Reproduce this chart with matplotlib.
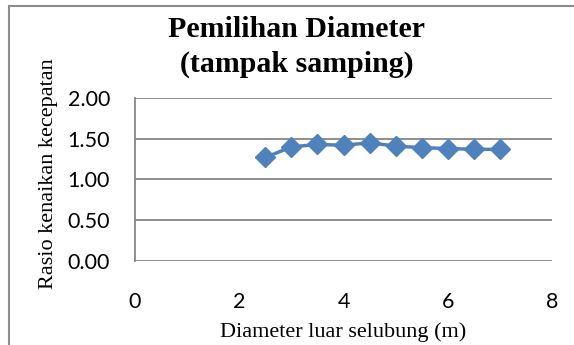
import matplotlib
matplotlib.use('Agg')
import matplotlib.pyplot as plt
from matplotlib.patches import Rectangle

# diameter luar (m) vs rasio kenaikan kecepatan
diameter = [2.5, 3.0, 3.5, 4.0, 4.5, 5.0, 5.5, 6.0, 6.5, 7.0]
rasio = [1.27, 1.40, 1.43, 1.42, 1.45, 1.41, 1.39, 1.38, 1.37, 1.37]
yticks = [0.0, 0.5, 1.0, 1.5, 2.0]
xticks = [0, 2, 4, 6, 8]
judul = ['Pemilihan Diameter', '(tampak samping)']

W, H = 574, 345
fig = plt.figure(figsize=(W/100, H/100), dpi=100, facecolor='white')
ax = fig.add_axes([0.235, 0.2435, 0.727, 0.4725])

ax.plot(diameter, rasio, color='#4F81BD', lw=2.5, marker='D', ms=10.5,
        markeredgecolor='#4F81BD')

ax.set_xlim(0, 8)
ax.set_ylim(0, 2)
ax.set_yticks(yticks)
ax.set_yticklabels(['%.2f' % v for v in yticks])
ax.set_xticks(xticks)
ax.grid(axis='y', color='#868686', lw=1.3)
ax.set_axisbelow(True)
for s in ['top', 'right', 'bottom']:
    ax.spines[s].set_visible(False)
ax.spines['left'].set_color('#868686')
ax.spines['left'].set_linewidth(1.3)
ax.tick_params(length=0, labelsize=15.5)
ax.tick_params(axis='y', pad=18)
ax.tick_params(axis='x', pad=22)
for lab in ax.get_xticklabels() + ax.get_yticklabels():
    lab.set_family('Lato')

# label sumbu
fig.text(343.5/W, 1 - 332/H, 'Diameter luar selubung (m)', ha='center', va='center',
         family='Liberation Serif', fontsize=16)
fig.text(48/W, 1 - 173.5/H, 'Rasio kenaikan kecepatan', ha='center', va='center',
         rotation=90, family='Liberation Serif', fontsize=16)

# judul dua baris, posisi baseline
for teks, yb in zip(judul, [37, 72]):
    fig.text(297/W, 1 - yb/H, teks, ha='center', va='baseline',
             family='Liberation Serif', weight='bold', fontsize=21.5)

# bingkai chart
fig.patches.append(Rectangle((9/W, -0.1), 1.2, 0.1 + 1 - 6/H, transform=fig.transFigure,
                             fill=False, ec='#8c8c8c', lw=1.5))

fig.savefig('out.png', dpi=100, facecolor='white')
